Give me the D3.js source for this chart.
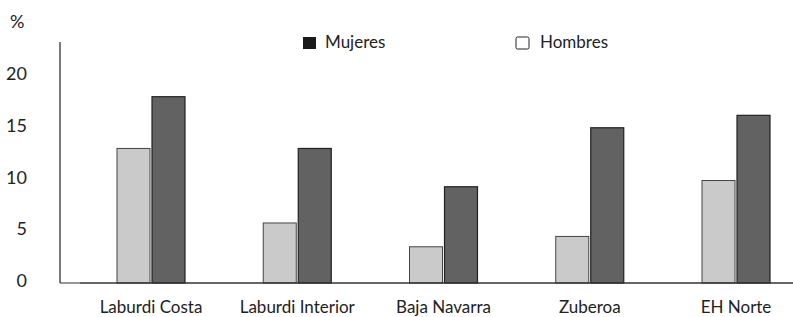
<!DOCTYPE html>
<html>
<head>
<meta charset="utf-8">
<script src="https://cdn.jsdelivr.net/npm/d3@7"></script>
<style>
  body { margin: 0; background: #fff; }
  text { font-family: Lato, "Open Sans", sans-serif; fill: #222; }
</style>
</head>
<body>
<div id="view"></div>
<script>
var width = 793, height = 317;

// datos (%)
var zonas = ["Laburdi Costa", "Laburdi Interior", "Baja Navarra", "Zuberoa", "EH Norte"];
var hombres = [13, 5.8, 3.5, 4.5, 9.9];
var mujeres = [18, 13, 9.3, 15, 16.2];
var yTicks = [0, 5, 10, 15, 20];

var svg = d3.select("#view").append("svg")
	.attr("width", width)
	.attr("height", height);

var y = d3.scaleLinear().domain([0, 20]).range([283, 76]);
var x = d3.scalePoint().domain(zonas).range([151, 736]);
var barW = 33, gap = 2;

// eje Y
svg.append("line")
	.attr("x1", 60).attr("x2", 60)
	.attr("y1", 42).attr("y2", y(0))
	.style("stroke", "#333").style("stroke-width", 1.3);

svg.selectAll(".ytick")
	.data(yTicks).enter()
	.append("text")
	.attr("class", "ytick")
	.attr("x", 27)
	.attr("y", function(d) { return y(d) - 3; })
	.attr("text-anchor", "end")
	.attr("dominant-baseline", "central")
	.style("font-size", "18px")
	.text(function(d) { return d; });

svg.append("text")
	.attr("x", 10).attr("y", 28)
	.style("font-size", "18px")
	.text("%");

// barras hombres
svg.selectAll(".h")
	.data(hombres).enter()
	.append("rect")
	.attr("class", "h")
	.attr("x", function(d, i) { return x(zonas[i]) - barW - gap / 2; })
	.attr("y", function(d) { return y(d); })
	.attr("width", barW)
	.attr("height", function(d) { return y(0) - y(d); })
	.style("fill", "#cacaca")
	.style("stroke", "#444")
	.style("stroke-width", 1);

// barras mujeres
svg.selectAll(".m")
	.data(mujeres).enter()
	.append("rect")
	.attr("class", "m")
	.attr("x", function(d, i) { return x(zonas[i]) + gap / 2; })
	.attr("y", function(d) { return y(d); })
	.attr("width", barW)
	.attr("height", function(d) { return y(0) - y(d); })
	.style("fill", "#626262")
	.style("stroke", "#222")
	.style("stroke-width", 1.2);

// línea base
svg.append("line")
	.attr("x1", 60).attr("x2", 80)
	.attr("y1", y(0)).attr("y2", y(0))
	.style("stroke", "#333").style("stroke-width", 1);
svg.append("line")
	.attr("x1", 80).attr("x2", width)
	.attr("y1", y(0)).attr("y2", y(0))
	.style("stroke", "#333").style("stroke-width", 1.6);

// etiquetas del eje X
svg.selectAll(".xlab")
	.data(zonas).enter()
	.append("text")
	.attr("class", "xlab")
	.attr("x", function(d) { return x(d); })
	.attr("y", 313)
	.attr("text-anchor", "middle")
	.style("font-size", "17px")
	.text(function(d) { return d; });

// leyenda
svg.append("rect")
	.attr("x", 303).attr("y", 37).attr("width", 13).attr("height", 12)
	.style("fill", "#1a1a1a");
svg.append("text")
	.attr("x", 325).attr("y", 48)
	.style("font-size", "17px")
	.text("Mujeres");
svg.append("rect")
	.attr("x", 516).attr("y", 37).attr("width", 13).attr("height", 12)
	.attr("rx", 1.5)
	.style("fill", "#fff").style("stroke", "#222").style("stroke-width", 1);
svg.append("text")
	.attr("x", 540).attr("y", 48)
	.style("font-size", "17px")
	.text("Hombres");
</script>
</body>
</html>
